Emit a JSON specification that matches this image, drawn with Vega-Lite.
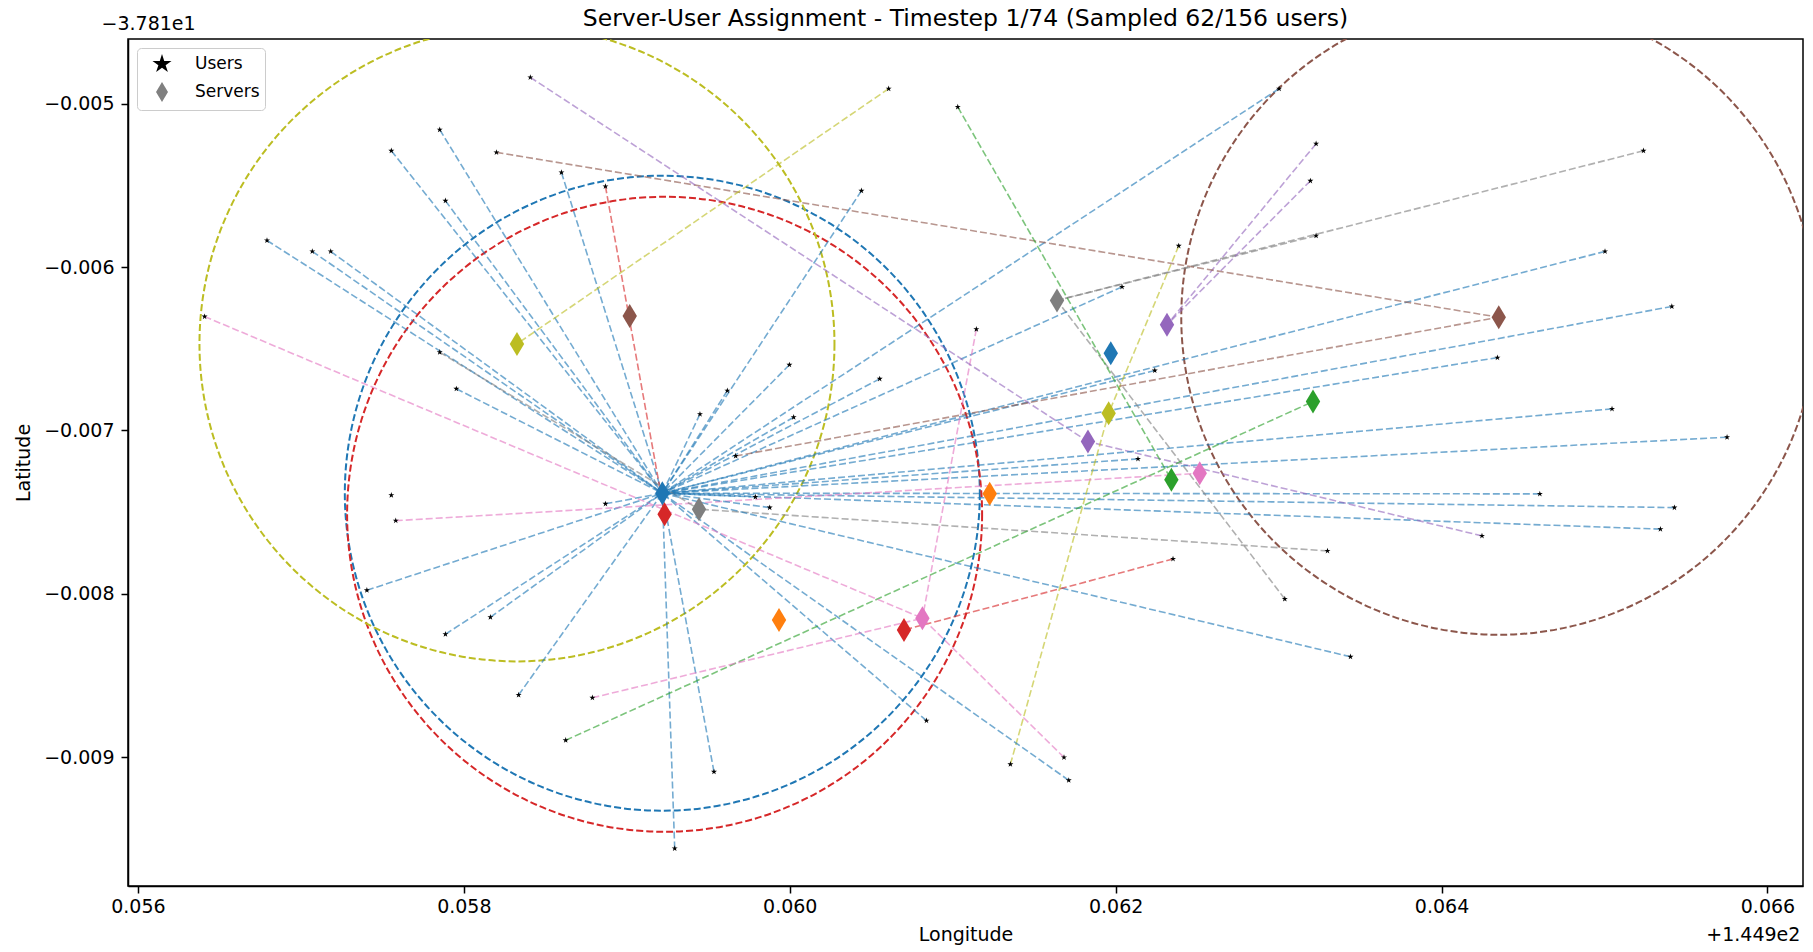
{
  "$schema": "https://vega.github.io/schema/vega-lite/v6.json",
  "width": 1675,
  "height": 847,
  "autosize": {"type": "none"},
  "padding": {"left": 128, "top": 39, "right": 10, "bottom": 66},
  "title": {
    "text": "Server-User Assignment - Timestep 1/74 (Sampled 62/156 users)",
    "font": "DejaVu Sans",
    "fontSize": 23.5,
    "fontWeight": "normal",
    "color": "black",
    "anchor": "middle",
    "frame": "group",
    "offset": -15.7
  },
  "datasets": {
    "servers": [
      {"id": "S0", "kind": "Servers", "lon": 0.059218, "lat": -0.007384, "coverage": true},
      {"id": "S1", "kind": "Servers", "lon": 0.059934, "lat": -0.008160, "coverage": false},
      {"id": "S2", "kind": "Servers", "lon": 0.062342, "lat": -0.007302, "coverage": false},
      {"id": "S3", "kind": "Servers", "lon": 0.059232, "lat": -0.007513, "coverage": true},
      {"id": "S4", "kind": "Servers", "lon": 0.061830, "lat": -0.007068, "coverage": false},
      {"id": "S5", "kind": "Servers", "lon": 0.059018, "lat": -0.006300, "coverage": false},
      {"id": "S6", "kind": "Servers", "lon": 0.060814, "lat": -0.008149, "coverage": false},
      {"id": "S7", "kind": "Servers", "lon": 0.059443, "lat": -0.007482, "coverage": false},
      {"id": "S8", "kind": "Servers", "lon": 0.058326, "lat": -0.006470, "coverage": true},
      {"id": "S10", "kind": "Servers", "lon": 0.061970, "lat": -0.006527, "coverage": false},
      {"id": "S11", "kind": "Servers", "lon": 0.061227, "lat": -0.007388, "coverage": false},
      {"id": "S12", "kind": "Servers", "lon": 0.063211, "lat": -0.006823, "coverage": false},
      {"id": "S13", "kind": "Servers", "lon": 0.060701, "lat": -0.008221, "coverage": false},
      {"id": "S14", "kind": "Servers", "lon": 0.062315, "lat": -0.006353, "coverage": false},
      {"id": "S15", "kind": "Servers", "lon": 0.064351, "lat": -0.006307, "coverage": true},
      {"id": "S16", "kind": "Servers", "lon": 0.062516, "lat": -0.007262, "coverage": false},
      {"id": "S17", "kind": "Servers", "lon": 0.061640, "lat": -0.006204, "coverage": false},
      {"id": "S18", "kind": "Servers", "lon": 0.061957, "lat": -0.006894, "coverage": false}
    ],
    "users": [
      {"user": 1, "kind": "Users", "lon": 0.064603, "lat": -0.007388, "server": "S0"},
      {"user": 2, "kind": "Users", "lon": 0.065429, "lat": -0.007472, "server": "S0"},
      {"user": 3, "kind": "Users", "lon": 0.065343, "lat": -0.007604, "server": "S0"},
      {"user": 4, "kind": "Users", "lon": 0.064248, "lat": -0.007645, "server": "S4"},
      {"user": 5, "kind": "Users", "lon": 0.065046, "lat": -0.006868, "server": "S0"},
      {"user": 6, "kind": "Users", "lon": 0.065752, "lat": -0.007041, "server": "S0"},
      {"user": 7, "kind": "Users", "lon": 0.064343, "lat": -0.006554, "server": "S0"},
      {"user": 8, "kind": "Users", "lon": 0.065003, "lat": -0.005904, "server": "S0"},
      {"user": 9, "kind": "Users", "lon": 0.065413, "lat": -0.006241, "server": "S0"},
      {"user": 10, "kind": "Users", "lon": 0.065239, "lat": -0.005288, "server": "S17"},
      {"user": 11, "kind": "Users", "lon": 0.063230, "lat": -0.005808, "server": "S17"},
      {"user": 12, "kind": "Users", "lon": 0.063230, "lat": -0.005245, "server": "S14"},
      {"user": 13, "kind": "Users", "lon": 0.063195, "lat": -0.005472, "server": "S14"},
      {"user": 14, "kind": "Users", "lon": 0.063003, "lat": -0.004908, "server": "S0"},
      {"user": 15, "kind": "Users", "lon": 0.063038, "lat": -0.008031, "server": "S17"},
      {"user": 16, "kind": "Users", "lon": 0.063300, "lat": -0.007737, "server": "S7"},
      {"user": 17, "kind": "Users", "lon": 0.063441, "lat": -0.008385, "server": "S0"},
      {"user": 18, "kind": "Users", "lon": 0.062352, "lat": -0.007786, "server": "S13"},
      {"user": 19, "kind": "Users", "lon": 0.062137, "lat": -0.007174, "server": "S0"},
      {"user": 20, "kind": "Users", "lon": 0.062240, "lat": -0.006633, "server": "S0"},
      {"user": 21, "kind": "Users", "lon": 0.062039, "lat": -0.006121, "server": "S0"},
      {"user": 22, "kind": "Users", "lon": 0.062387, "lat": -0.005870, "server": "S18"},
      {"user": 23, "kind": "Users", "lon": 0.061145, "lat": -0.006380, "server": "S6"},
      {"user": 24, "kind": "Users", "lon": 0.061354, "lat": -0.009043, "server": "S18"},
      {"user": 25, "kind": "Users", "lon": 0.061683, "lat": -0.009001, "server": "S6"},
      {"user": 26, "kind": "Users", "lon": 0.061712, "lat": -0.009141, "server": "S0"},
      {"user": 27, "kind": "Users", "lon": 0.060839, "lat": -0.008776, "server": "S0"},
      {"user": 28, "kind": "Users", "lon": 0.059535, "lat": -0.009089, "server": "S0"},
      {"user": 29, "kind": "Users", "lon": 0.059294, "lat": -0.009558, "server": "S0"},
      {"user": 30, "kind": "Users", "lon": 0.058625, "lat": -0.008896, "server": "S12"},
      {"user": 31, "kind": "Users", "lon": 0.058789, "lat": -0.008636, "server": "S6"},
      {"user": 32, "kind": "Users", "lon": 0.058336, "lat": -0.008619, "server": "S0"},
      {"user": 33, "kind": "Users", "lon": 0.057887, "lat": -0.008247, "server": "S0"},
      {"user": 34, "kind": "Users", "lon": 0.058163, "lat": -0.008143, "server": "S0"},
      {"user": 35, "kind": "Users", "lon": 0.057405, "lat": -0.007978, "server": "S0"},
      {"user": 36, "kind": "Users", "lon": 0.057582, "lat": -0.007552, "server": "S16"},
      {"user": 37, "kind": "Users", "lon": 0.057555, "lat": -0.007396, "server": null},
      {"user": 38, "kind": "Users", "lon": 0.056409, "lat": -0.006303, "server": "S6"},
      {"user": 39, "kind": "Users", "lon": 0.056792, "lat": -0.005837, "server": "S0"},
      {"user": 40, "kind": "Users", "lon": 0.057070, "lat": -0.005904, "server": "S0"},
      {"user": 41, "kind": "Users", "lon": 0.057183, "lat": -0.005904, "server": "S0"},
      {"user": 42, "kind": "Users", "lon": 0.057555, "lat": -0.005288, "server": "S0"},
      {"user": 43, "kind": "Users", "lon": 0.057852, "lat": -0.005159, "server": "S0"},
      {"user": 44, "kind": "Users", "lon": 0.057887, "lat": -0.005594, "server": "S0"},
      {"user": 45, "kind": "Users", "lon": 0.058200, "lat": -0.005298, "server": "S15"},
      {"user": 46, "kind": "Users", "lon": 0.058408, "lat": -0.004839, "server": "S4"},
      {"user": 47, "kind": "Users", "lon": 0.058599, "lat": -0.005421, "server": "S0"},
      {"user": 48, "kind": "Users", "lon": 0.058869, "lat": -0.005506, "server": "S3"},
      {"user": 49, "kind": "Users", "lon": 0.057852, "lat": -0.006521, "server": "S7"},
      {"user": 50, "kind": "Users", "lon": 0.057954, "lat": -0.006745, "server": "S0"},
      {"user": 51, "kind": "Users", "lon": 0.060440, "lat": -0.005533, "server": "S0"},
      {"user": 52, "kind": "Users", "lon": 0.060607, "lat": -0.004908, "server": "S8"},
      {"user": 53, "kind": "Users", "lon": 0.061031, "lat": -0.005020, "server": "S2"},
      {"user": 54, "kind": "Users", "lon": 0.059449, "lat": -0.006900, "server": "S0"},
      {"user": 55, "kind": "Users", "lon": 0.059617, "lat": -0.006756, "server": "S0"},
      {"user": 56, "kind": "Users", "lon": 0.059998, "lat": -0.006598, "server": "S0"},
      {"user": 57, "kind": "Users", "lon": 0.060024, "lat": -0.006919, "server": "S0"},
      {"user": 58, "kind": "Users", "lon": 0.060552, "lat": -0.006684, "server": "S0"},
      {"user": 59, "kind": "Users", "lon": 0.059668, "lat": -0.007156, "server": "S15"},
      {"user": 60, "kind": "Users", "lon": 0.059789, "lat": -0.007407, "server": "S0"},
      {"user": 61, "kind": "Users", "lon": 0.059877, "lat": -0.007472, "server": "S0"},
      {"user": 62, "kind": "Users", "lon": 0.058869, "lat": -0.007449, "server": "S0"}
    ],
    "offsets": [
      {"axis": "lat", "label": "−3.781e1"},
      {"axis": "lon", "label": "+1.449e2"}
    ]
  },
  "layer": [
    {
      "data": {"name": "servers"},
      "transform": [{"filter": "datum.coverage"}],
      "mark": {
        "type": "point",
        "shape": "circle",
        "filled": false,
        "size": 403225,
        "strokeWidth": 2,
        "strokeDash": [7, 3],
        "opacity": 1,
        "clip": true
      },
      "encoding": {
        "x": {
          "field": "lon",
          "type": "quantitative",
          "title": "Longitude",
          "scale": {"domain": [0.055939, 0.066218], "nice": false, "zero": false},
          "axis": {
            "values": [0.056, 0.058, 0.06, 0.062, 0.064, 0.066],
            "format": ".3f",
            "labelPadding": 4,
            "titlePadding": 9.5
          }
        },
        "y": {
          "field": "lat",
          "type": "quantitative",
          "title": "Latitude",
          "scale": {"domain": [-0.009788, -0.004604], "nice": false, "zero": false},
          "axis": {
            "values": [-0.005, -0.006, -0.007, -0.008, -0.009],
            "format": ".3f",
            "labelPadding": 7,
            "titlePadding": 10
          }
        },
        "color": {
          "field": "id",
          "type": "nominal",
          "legend": null,
          "scale": {
            "domain": ["S0", "S1", "S2", "S3", "S4", "S5", "S6", "S7", "S8", "S10", "S11", "S12", "S13", "S14", "S15", "S16", "S17", "S18"],
            "range": ["#1f77b4", "#ff7f0e", "#2ca02c", "#d62728", "#9467bd", "#8c564b", "#e377c2", "#7f7f7f", "#bcbd22", "#1f77b4", "#ff7f0e", "#2ca02c", "#d62728", "#9467bd", "#8c564b", "#e377c2", "#7f7f7f", "#bcbd22"]
          }
        }
      }
    },
    {
      "data": {"name": "users"},
      "transform": [
        {
          "lookup": "server",
          "from": {"data": {"name": "servers"}, "key": "id", "fields": ["lon", "lat"]},
          "as": ["slon", "slat"]
        },
        {"filter": "isValid(datum.slon)"}
      ],
      "mark": {"type": "rule", "strokeWidth": 1.6, "strokeDash": [7, 3], "opacity": 0.62},
      "encoding": {
        "x": {"field": "lon", "type": "quantitative", "title": "Longitude", "scale": {"domain": [0.055939, 0.066218], "nice": false, "zero": false}},
        "y": {"field": "lat", "type": "quantitative", "title": "Latitude", "scale": {"domain": [-0.009788, -0.004604], "nice": false, "zero": false}},
        "x2": {"field": "slon"},
        "y2": {"field": "slat"},
        "color": {
          "field": "server",
          "type": "nominal",
          "legend": null,
          "scale": {
            "domain": ["S0", "S1", "S2", "S3", "S4", "S5", "S6", "S7", "S8", "S10", "S11", "S12", "S13", "S14", "S15", "S16", "S17", "S18"],
            "range": ["#1f77b4", "#ff7f0e", "#2ca02c", "#d62728", "#9467bd", "#8c564b", "#e377c2", "#7f7f7f", "#bcbd22", "#1f77b4", "#ff7f0e", "#2ca02c", "#d62728", "#9467bd", "#8c564b", "#e377c2", "#7f7f7f", "#bcbd22"]
          }
        }
      }
    },
    {
      "data": {"name": "users"},
      "mark": {"type": "point", "filled": true, "size": 40, "opacity": 1, "strokeWidth": 0},
      "encoding": {
        "x": {"field": "lon", "type": "quantitative", "title": "Longitude", "scale": {"domain": [0.055939, 0.066218], "nice": false, "zero": false}},
        "y": {"field": "lat", "type": "quantitative", "title": "Latitude", "scale": {"domain": [-0.009788, -0.004604], "nice": false, "zero": false}},
        "shape": {
          "field": "kind",
          "type": "nominal",
          "scale": {
            "domain": ["Users", "Servers"],
            "range": [
              "M0,-1L0.2245,-0.309L0.951,-0.309L0.363,0.118L0.588,0.809L0,0.382L-0.588,0.809L-0.363,0.118L-0.951,-0.309L-0.2245,-0.309Z",
              "M0,-1L0.6,0L0,1L-0.6,0Z"
            ]
          },
          "legend": {
            "title": null,
            "encode": {
              "symbols": {
                "update": {
                  "size": {"signal": "datum.value === 'Users' ? 230 : 540"},
                  "opacity": {"value": 1},
                  "strokeWidth": {"value": 0}
                }
              }
            }
          }
        },
        "fill": {
          "field": "kind",
          "type": "nominal",
          "scale": {"domain": ["Users", "Servers"], "range": ["black", "grey"]},
          "legend": {
            "title": null,
            "encode": {
              "symbols": {
                "update": {
                  "size": {"signal": "datum.value === 'Users' ? 230 : 540"},
                  "opacity": {"value": 1},
                  "strokeWidth": {"value": 0}
                }
              }
            }
          }
        }
      }
    },
    {
      "data": {"name": "servers"},
      "mark": {"type": "point", "filled": true, "size": 576, "opacity": 1, "strokeWidth": 0},
      "encoding": {
        "x": {"field": "lon", "type": "quantitative", "title": "Longitude", "scale": {"domain": [0.055939, 0.066218], "nice": false, "zero": false}},
        "y": {"field": "lat", "type": "quantitative", "title": "Latitude", "scale": {"domain": [-0.009788, -0.004604], "nice": false, "zero": false}},
        "shape": {
          "field": "kind",
          "type": "nominal",
          "scale": {
            "domain": ["Users", "Servers"],
            "range": [
              "M0,-1L0.2245,-0.309L0.951,-0.309L0.363,0.118L0.588,0.809L0,0.382L-0.588,0.809L-0.363,0.118L-0.951,-0.309L-0.2245,-0.309Z",
              "M0,-1L0.6,0L0,1L-0.6,0Z"
            ]
          },
          "legend": {"title": null}
        },
        "color": {
          "field": "id",
          "type": "nominal",
          "legend": null,
          "scale": {
            "domain": ["S0", "S1", "S2", "S3", "S4", "S5", "S6", "S7", "S8", "S10", "S11", "S12", "S13", "S14", "S15", "S16", "S17", "S18"],
            "range": ["#1f77b4", "#ff7f0e", "#2ca02c", "#d62728", "#9467bd", "#8c564b", "#e377c2", "#7f7f7f", "#bcbd22", "#1f77b4", "#ff7f0e", "#2ca02c", "#d62728", "#9467bd", "#8c564b", "#e377c2", "#7f7f7f", "#bcbd22"]
          }
        }
      }
    },
    {
      "data": {"name": "offsets"},
      "transform": [{"filter": "datum.axis === 'lat'"}],
      "mark": {"type": "text", "font": "DejaVu Sans", "fontSize": 19, "color": "black", "align": "left", "baseline": "middle", "dx": -26.5, "dy": -15},
      "encoding": {
        "x": {"datum": 0.055939, "type": "quantitative", "title": "Longitude"},
        "y": {"datum": -0.004604, "type": "quantitative", "title": "Latitude"},
        "text": {"field": "label", "type": "nominal"}
      }
    },
    {
      "data": {"name": "offsets"},
      "transform": [{"filter": "datum.axis === 'lon'"}],
      "mark": {"type": "text", "font": "DejaVu Sans", "fontSize": 19, "color": "black", "align": "right", "baseline": "middle", "dx": -2.6, "dy": 49},
      "encoding": {
        "x": {"datum": 0.066218, "type": "quantitative", "title": "Longitude"},
        "y": {"datum": -0.009788, "type": "quantitative", "title": "Latitude"},
        "text": {"field": "label", "type": "nominal"}
      }
    }
  ],
  "config": {
    "view": {"stroke": "black", "strokeWidth": 1.5},
    "axis": {
      "grid": false,
      "domainColor": "black",
      "domainWidth": 1.5,
      "tickColor": "black",
      "tickWidth": 1.5,
      "tickSize": 7,
      "labelFont": "DejaVu Sans",
      "labelFontSize": 19,
      "labelColor": "black",
      "titleFont": "DejaVu Sans",
      "titleFontSize": 19,
      "titleFontWeight": "normal",
      "titleColor": "black"
    },
    "legend": {
      "orient": "top-left",
      "offset": 9,
      "padding": 5,
      "rowPadding": 3,
      "symbolSize": 400,
      "symbolOffset": 9,
      "labelOffset": 22,
      "labelFont": "DejaVu Sans",
      "labelFontSize": 17,
      "labelColor": "black",
      "strokeColor": "#cccccc",
      "fillColor": "rgba(255,255,255,0.8)",
      "cornerRadius": 4
    }
  }
}
